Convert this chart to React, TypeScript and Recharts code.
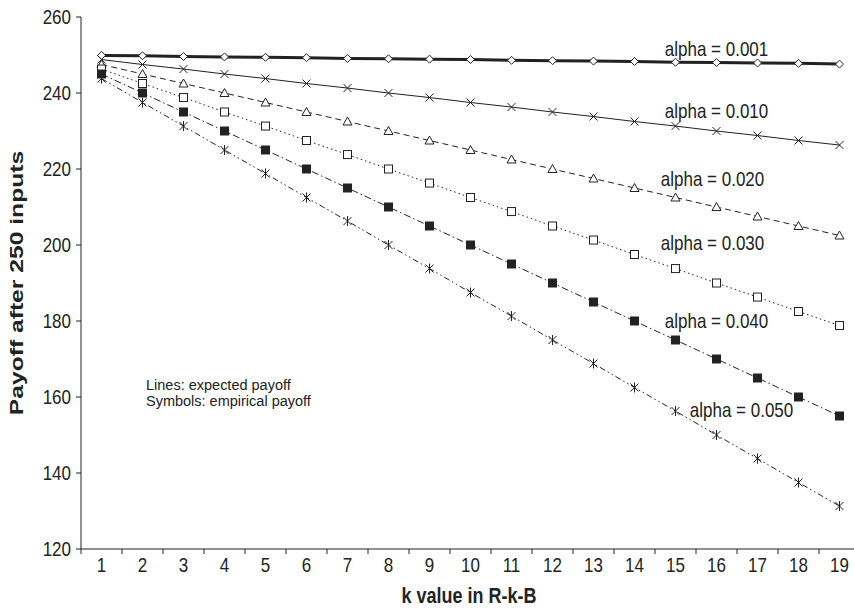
import { LineChart, Line, XAxis, YAxis, ReferenceDot } from 'recharts';

const kValues = [1, 2, 3, 4, 5, 6, 7, 8, 9, 10, 11, 12, 13, 14, 15, 16, 17, 18, 19];

const alpha001 = [249.9, 249.8, 249.6, 249.5, 249.4, 249.3, 249.1, 249.0, 248.9, 248.8, 248.6, 248.5, 248.4, 248.3, 248.1, 248.0, 247.9, 247.8, 247.6];
const alpha010 = [248.8, 247.5, 246.3, 245.0, 243.8, 242.5, 241.3, 240.0, 238.8, 237.5, 236.3, 235.0, 233.8, 232.5, 231.3, 230.0, 228.8, 227.5, 226.3];
const alpha020 = [247.5, 245.0, 242.5, 240.0, 237.5, 235.0, 232.5, 230.0, 227.5, 225.0, 222.5, 220.0, 217.5, 215.0, 212.5, 210.0, 207.5, 205.0, 202.5];
const alpha030 = [246.3, 242.5, 238.8, 235.0, 231.3, 227.5, 223.8, 220.0, 216.3, 212.5, 208.8, 205.0, 201.3, 197.5, 193.8, 190.0, 186.3, 182.5, 178.8];
const alpha040 = [245.0, 240.0, 235.0, 230.0, 225.0, 220.0, 215.0, 210.0, 205.0, 200.0, 195.0, 190.0, 185.0, 180.0, 175.0, 170.0, 165.0, 160.0, 155.0];
const alpha050 = [243.8, 237.5, 231.3, 225.0, 218.8, 212.5, 206.3, 200.0, 193.8, 187.5, 181.3, 175.0, 168.8, 162.5, 156.3, 150.0, 143.8, 137.5, 131.3];

const yTicks = [120, 140, 160, 180, 200, 220, 240, 260];

// label text, anchor category, anchor value, x nudge
const seriesLabels: Array<[string, number, number, number]> = [
  ['alpha = 0.001', 16, 251.7, 0],
  ['alpha = 0.010', 16, 235.2, 0],
  ['alpha = 0.020', 16, 217.3, -4],
  ['alpha = 0.030', 16, 200.5, -4],
  ['alpha = 0.040', 16, 180.0, 0],
  ['alpha = 0.050', 16, 156.6, 25],
];

const data = kValues.map((k, i) => ({
  k,
  a001: alpha001[i],
  a010: alpha010[i],
  a020: alpha020[i],
  a030: alpha030[i],
  a040: alpha040[i],
  a050: alpha050[i],
}));

const ink = '#222';
const font = 'Liberation Sans, Arial, sans-serif';

// the source picture is a bit squashed sideways, so text runs taller than wide
function SText({ x, y, anchor = 'middle', size = 17, bold = false, vertical = false, stretch = 1.2, children }: any) {
  return (
    <text
      transform={`translate(${x} ${y}) scale(1 ${stretch})${vertical ? ' rotate(-90)' : ''}`}
      textAnchor={anchor}
      dominantBaseline="central"
      fill={ink}
      fontSize={size}
      fontWeight={bold ? 'bold' : 'normal'}
      fontFamily={font}
    >
      {children}
    </text>
  );
}

function marker(shape: string) {
  return (props: any) => {
    const { cx, cy, index } = props;
    if (cx == null || cy == null) return <g key={index} />;
    const s = 4;
    switch (shape) {
      case 'diamond':
        return (
          <path key={index} d={`M${cx},${cy - s} L${cx + s},${cy} L${cx},${cy + s} L${cx - s},${cy} Z`}
            fill="#fff" stroke={ink} strokeWidth={1} />
        );
      case 'cross':
        return (
          <path key={index} d={`M${cx - s},${cy - s} L${cx + s},${cy + s} M${cx - s},${cy + s} L${cx + s},${cy - s}`}
            stroke={ink} strokeWidth={1} fill="none" />
        );
      case 'triangle':
        return (
          <path key={index} d={`M${cx},${cy - 4.5} L${cx + 4.5},${cy + 3.5} L${cx - 4.5},${cy + 3.5} Z`}
            fill="#fff" stroke={ink} strokeWidth={1} />
        );
      case 'openSquare':
        return <rect key={index} x={cx - s} y={cy - s} width={8} height={8} fill="#fff" stroke={ink} strokeWidth={1} />;
      case 'square':
        return <rect key={index} x={cx - s} y={cy - s} width={8} height={8} fill={ink} stroke={ink} strokeWidth={1} />;
      default:
        return (
          <path key={index}
            d={`M${cx - s},${cy - s} L${cx + s},${cy + s} M${cx - s},${cy + s} L${cx + s},${cy - s} M${cx},${cy - 5} L${cx},${cy + 5}`}
            stroke={ink} strokeWidth={1} fill="none" />
        );
    }
  };
}

function XTick({ x, y, payload }: any) {
  return (
    <g>
      <line x1={x - 20.5} y1={y - 8} x2={x - 20.5} y2={y - 3} stroke={ink} />
      <SText x={x} y={y + 8}>{payload.value}</SText>
    </g>
  );
}

function YTick({ x, y, payload }: any) {
  return <SText x={x - 3} y={y} anchor="end">{payload.value}</SText>;
}

function noteLabel(text: string, dx: number, anchor: string, size: number, stretch: number) {
  return (props: any) => {
    const vb = props.viewBox || {};
    const cx = (vb.x ?? 0) + (vb.width ?? 0) / 2;
    const cy = (vb.y ?? 0) + (vb.height ?? 0) / 2;
    return <SText x={cx + dx} y={cy} anchor={anchor} size={size} stretch={stretch}>{text}</SText>;
  };
}

export default function App() {
  return (
    <div style={{ position: 'absolute', left: 0, top: 0, width: 854, height: 609, overflow: 'hidden', background: '#fff' }}>
      <LineChart width={880} height={609} data={data} margin={{ top: 17, right: 20, bottom: 0, left: 0 }}>
        <XAxis
          dataKey="k"
          scale="band"
          height={60}
          interval={0}
          tickLine={false}
          axisLine={{ stroke: ink }}
          tick={<XTick />}
          label={() => <SText x={469} y={595} size={18} bold>k value in R-k-B</SText>}
        />
        <YAxis
          width={81}
          domain={[120, 260]}
          ticks={yTicks}
          interval={0}
          tickSize={5}
          tickLine={{ stroke: ink }}
          axisLine={{ stroke: ink }}
          tick={<YTick />}
          label={() => <SText x={17} y={283} size={18} bold vertical stretch={1.37}>Payoff after 250 inputs</SText>}
        />
        <Line dataKey="a001" stroke={ink} strokeWidth={3} dot={marker('diamond')} isAnimationActive={false} />
        <Line dataKey="a010" stroke={ink} strokeWidth={1} dot={marker('cross')} isAnimationActive={false} />
        <Line dataKey="a020" stroke={ink} strokeWidth={1} strokeDasharray="6 4" dot={marker('triangle')} isAnimationActive={false} />
        <Line dataKey="a030" stroke={ink} strokeWidth={1} strokeDasharray="1.5 3" dot={marker('openSquare')} isAnimationActive={false} />
        <Line dataKey="a040" stroke={ink} strokeWidth={1} strokeDasharray="7 3 1.5 3" dot={marker('square')} isAnimationActive={false} />
        <Line dataKey="a050" stroke={ink} strokeWidth={1} strokeDasharray="6 3 1.5 3 1.5 3" dot={marker('asterisk')} isAnimationActive={false} />
        {seriesLabels.map(([text, k, v, dx]) => (
          <ReferenceDot key={text} x={k} y={v} r={1} fill="none" stroke="none" label={noteLabel(text, dx, 'middle', 17, 1.2)} />
        ))}
        <ReferenceDot x={2} y={163.3} r={1} fill="none" stroke="none" label={noteLabel('Lines: expected payoff', 3.5, 'start', 14.5, 1.05)} />
        <ReferenceDot x={2} y={158.9} r={1} fill="none" stroke="none" label={noteLabel('Symbols: empirical payoff', 3.5, 'start', 14.5, 1.05)} />
      </LineChart>
    </div>
  );
}
